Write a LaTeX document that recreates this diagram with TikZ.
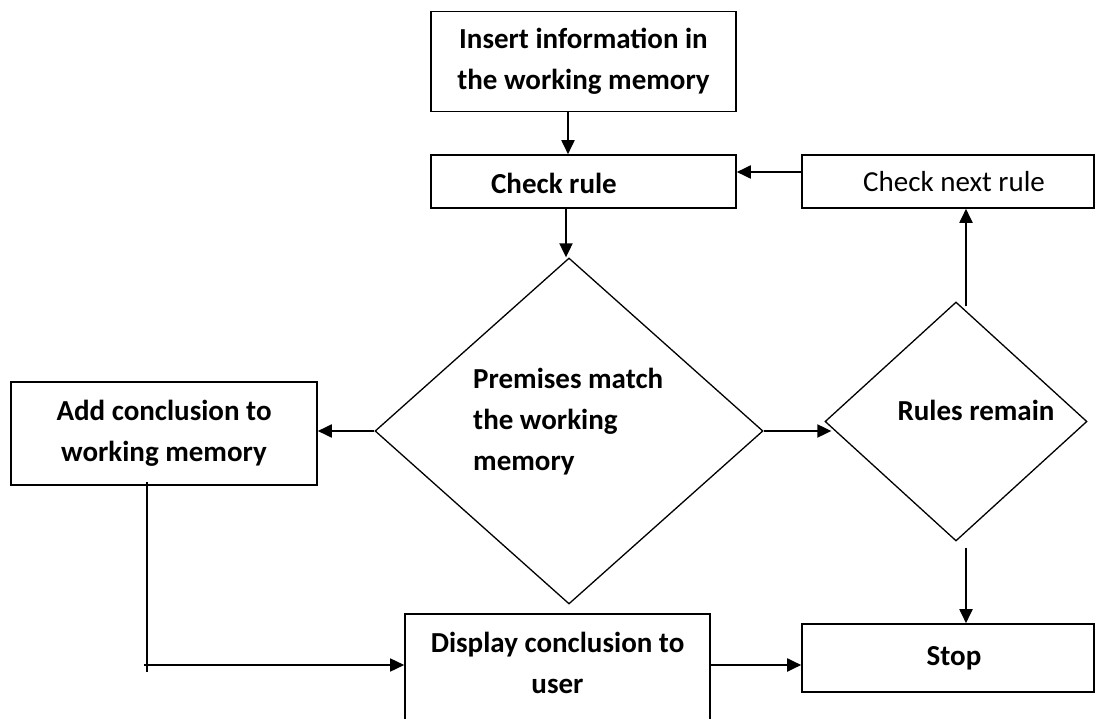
\documentclass[tikz,border=0pt]{standalone}
\usepackage{fontspec}
\setmainfont{Carlito}
\usetikzlibrary{arrows.meta,shapes.geometric}

\tikzset{
  box/.style={draw, line width=1.6pt, inner sep=0pt, font=\bfseries\fontsize{29}{41}\selectfont, align=center},
  decision/.style={draw, diamond, line width=1.3pt, inner sep=0pt},
  label text/.style={inner sep=0pt, font=\bfseries\fontsize{29}{41}\selectfont, align=left},
  flow/.style={line width=1.9pt, -{Triangle[length=14pt,width=13pt]}},
  plain/.style={line width=1.4pt}
}

\begin{document}
\begin{tikzpicture}[x=1pt,y=-1pt]
  \useasboundingbox (0,0) rectangle (1096,719);
  \clip (0,0) rectangle (1096,719);
  \fill[white] (0,0) rectangle (1096,719);

  % process boxes
  \node[box, minimum width=305pt, minimum height=100pt] (ins) at (583.5,61.5)
    {Insert information in\\the working memory};
  \node[box, minimum width=305pt, minimum height=53pt] (chk) at (583.5,181.5) {};
  \node[label text] (chktext) at (554,183) {Check rule};
  \node[box, font=\fontsize{29}{41}\selectfont, minimum width=292pt, minimum height=53pt] (cnr) at (948,181.5)
    {\hspace*{12pt}Check next rule};
  \node[box, minimum width=306pt, minimum height=103pt] (add) at (164,433.5)
    {Add conclusion to\\working memory};
  \node[box, minimum width=305pt, minimum height=140pt, anchor=north] (disp) at (557.5,613) {};
  \node[label text, align=center] (disptext) at (557.5,663) {Display conclusion to\\user};
  \node[box, minimum width=292pt, minimum height=68pt] (stop) at (948,658)
    {\hspace*{12pt}Stop};

  % decisions
  \node[decision, minimum width=388pt, minimum height=346pt] (md) at (569,431) {};
  \node[label text, anchor=west] (mdtext) at (473,422) {Premises match\\the working\\memory};
  \node[decision, minimum width=262pt, minimum height=239pt] (rr) at (956,421.5) {};
  \node[label text] (rrtext) at (976,410) {Rules remain};

  % helper coordinates for the connector columns and rows
  \coordinate (colA) at (568,0);
  \coordinate (colB) at (566,0);
  \coordinate (colR) at (966,0);
  \coordinate (rowN) at (0,172);
  \coordinate (rowS) at (0,665);
  \coordinate (addout) at (147,482);
  \coordinate (turn) at (147,665);

  % connectors
  \draw[flow] (ins.south -| colA) -- (chk.north -| colA);
  \draw[flow] (chk.south -| colB) -- (md.north -| colB);
  \draw[flow] (cnr.west |- rowN) -- (chk.east |- rowN);
  \draw[flow] (md.west) -- (md.west -| add.east);
  \draw[flow] (md.east) -- ([xshift=7pt]md.east -| rr.west);
  \draw[flow] ([yshift=-5pt]rr.north -| colR) -- (cnr.south -| colR);
  \draw[flow] ([yshift=-6pt]rr.south -| colR) -- (stop.north -| colR);
  \draw[flow] (disp.east |- rowS) -- (stop.west |- rowS);
  \draw[plain] (addout) -- ([yshift=-7pt]turn);
  \draw[flow, line width=1.6pt] ([xshift=-3pt]turn) -- (disp.west |- turn);
\end{tikzpicture}
\end{document}
